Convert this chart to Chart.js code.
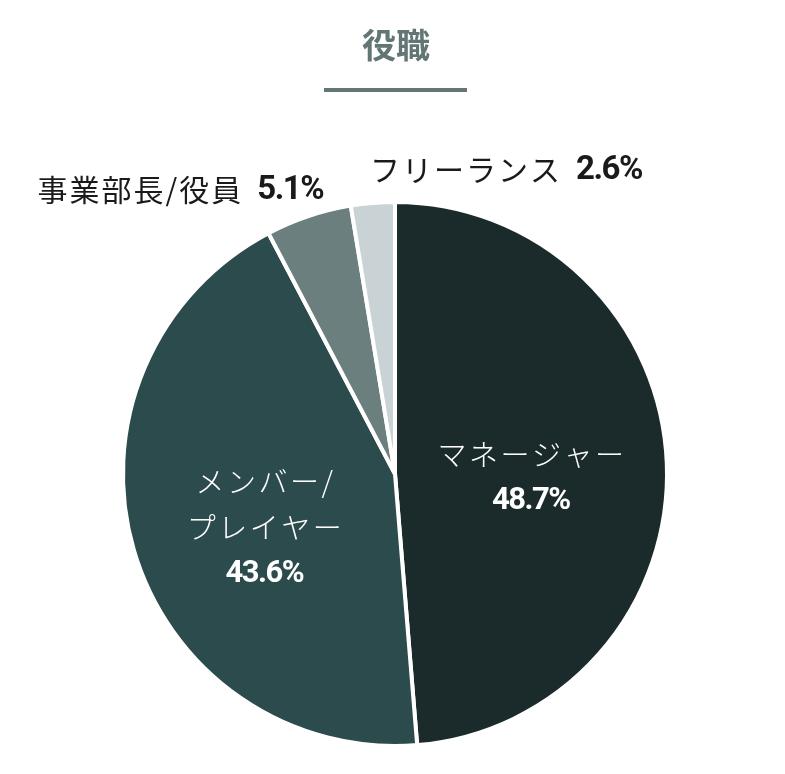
<!DOCTYPE html>
<html lang="ja">
<head>
<meta charset="utf-8">
<title>役職</title>
<script src="https://cdn.jsdelivr.net/npm/chart.js@4.4.0/dist/chart.umd.min.js"></script>
<style>
  html, body { margin: 0; padding: 0; background: #ffffff; }
  #wrap { position: relative; width: 785px; height: 774px; }
</style>
</head>
<body>
<div id="wrap"><canvas id="roleChart" width="785" height="774"></canvas></div>
<script>
// Chart data
const chartTitle = '役職';
const categories = [['マネージャー'], ['メンバー/', 'プレイヤー'], ['事業部長/役員'], ['フリーランス']];
const shares = [48.7, 43.6, 5.1, 2.6];
const sliceColors = ['#1b2a2a', '#2c4b4d', '#6b7f7e', '#c9d2d4'];

// Label placement: inside the slice (frac of radius) or outside next to the rim
const labelPlacement = [
    { inside: true, frac: 0.5, dy: 10 },
    { inside: true, frac: 0.5, dy: 16 },
    { inside: false, align: 'right', dx: 14, dy: -28 },
    { inside: false, align: 'left', dx: -3, dy: -35 }
];

const JP_FONT = '"Noto Sans CJK JP", "Noto Sans", sans-serif';
const NUM_FONT = 'Roboto, "Noto Sans", sans-serif';

function formatPct(v) {
    return v.toFixed(1) + '%';
}

// Title with underline
const titlePlugin = {
    id: 'titleBlock',
    afterDraw(chart) {
        const ctx = chart.ctx;
        ctx.save();
        ctx.fillStyle = '#637574';
        ctx.font = '700 34px ' + JP_FONT;
        ctx.textAlign = 'center';
        ctx.textBaseline = 'middle';
        ctx.fillText(chartTitle, 396, 45);
        ctx.fillRect(324, 88, 143, 4);
        ctx.restore();
    }
};

// Slice labels
const sliceLabelPlugin = {
    id: 'sliceLabels',
    afterDatasetsDraw(chart) {
        const ctx = chart.ctx;
        const meta = chart.getDatasetMeta(0);
        meta.data.forEach(function(arc, i) {
            const p = arc.getProps(['x', 'y', 'startAngle', 'endAngle', 'outerRadius'], true);
            const mid = (p.startAngle + p.endAngle) / 2;
            const place = labelPlacement[i];
            const lines = categories[i];
            const pct = formatPct(shares[i]);
            ctx.save();
            ctx.textBaseline = 'middle';
            if (place.inside) {
                const r = p.outerRadius * place.frac;
                const cx = p.x + Math.cos(mid) * r;
                const cy = p.y + Math.sin(mid) * r + place.dy;
                const lineH = 46;
                const all = lines.length + 1;
                const top = cy - (all - 1) * lineH / 2;
                ctx.fillStyle = '#ffffff';
                ctx.textAlign = 'center';
                ctx.font = '300 29px ' + JP_FONT;
                ctx.letterSpacing = '2.5px';
                lines.forEach(function(t, k) {
                    ctx.fillText(t, cx + 1, top + k * lineH);
                });
                ctx.font = '700 31px ' + NUM_FONT;
                ctx.letterSpacing = '-1.5px';
                ctx.fillText(pct, cx, top + lines.length * lineH);
            } else {
                const ox = p.x + Math.cos(mid) * (p.outerRadius - 2) + place.dx;
                const oy = p.y + Math.sin(mid) * (p.outerRadius - 2) + place.dy;
                const name = lines.join('');
                ctx.fillStyle = '#1a1a1a';
                ctx.textAlign = 'left';
                ctx.font = '400 30px ' + JP_FONT;
                ctx.letterSpacing = '2px';
                const nameW = ctx.measureText(name).width;
                ctx.font = '700 33px ' + NUM_FONT;
                ctx.letterSpacing = '-1.5px';
                const pctW = ctx.measureText(pct).width;
                const gap = 14;
                const startX = place.align === 'right' ? ox - (nameW + gap + pctW) : ox;
                ctx.font = '400 30px ' + JP_FONT;
                ctx.letterSpacing = '2px';
                ctx.fillText(name, startX, oy);
                ctx.font = '700 33px ' + NUM_FONT;
                ctx.letterSpacing = '-1.5px';
                ctx.fillText(pct, startX + nameW + gap, oy + 1);
            }
            ctx.restore();
        });
    }
};

function initRoleChart() {
    const canvas = document.getElementById('roleChart');
    if (!canvas) return;
    new Chart(canvas, {
        type: 'pie',
        data: {
            labels: categories.map(function(c) { return c.join(''); }),
            datasets: [{
                data: shares,
                backgroundColor: sliceColors,
                borderColor: '#ffffff',
                borderWidth: 4,
                hoverOffset: 0,
                radius: 272
            }]
        },
        options: {
            responsive: false,
            animation: false,
            devicePixelRatio: 1,
            layout: { padding: { left: 120, right: 115, top: 200, bottom: 26 } },
            plugins: {
                legend: { display: false },
                tooltip: { enabled: false },
                title: { display: false }
            }
        },
        plugins: [titlePlugin, sliceLabelPlugin]
    });
}

document.addEventListener('DOMContentLoaded', function() {
    initRoleChart();
});
</script>
</body>
</html>
